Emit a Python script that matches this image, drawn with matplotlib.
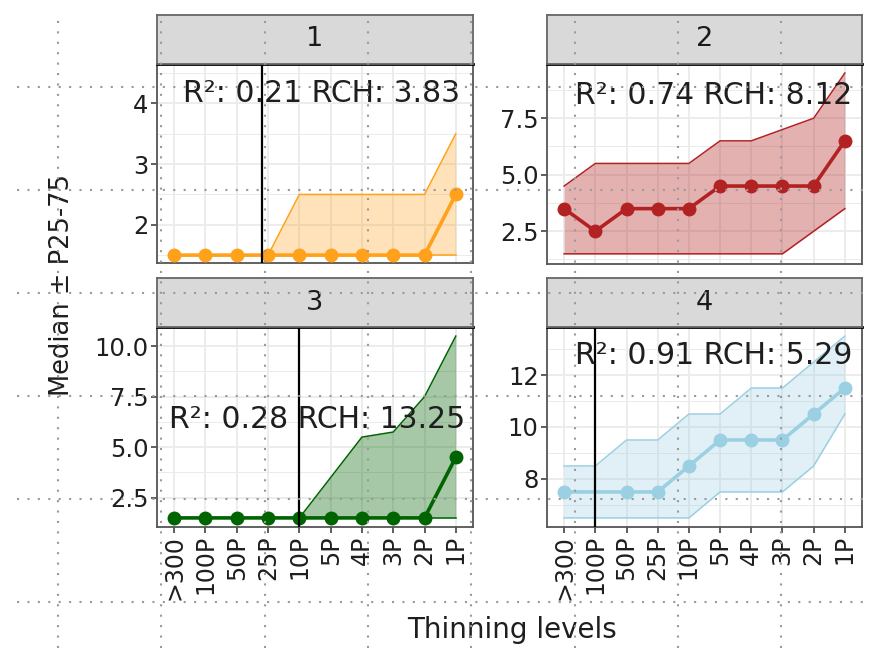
import numpy as np
import matplotlib
matplotlib.use("Agg")
import matplotlib.pyplot as plt
from matplotlib.lines import Line2D

levels = [">300", "100P", "50P", "25P", "10P", "5P", "4P", "3P", "2P", "1P"]

med1 = [1.5, 1.5, 1.5, 1.5, 1.5, 1.5, 1.5, 1.5, 1.5, 2.5]
lo1 = [1.5, 1.5, 1.5, 1.5, 1.5, 1.5, 1.5, 1.5, 1.5, 1.5]
hi1 = [1.5, 1.5, 1.5, 1.5, 2.5, 2.5, 2.5, 2.5, 2.5, 3.5]

med2 = [3.5, 2.5, 3.5, 3.5, 3.5, 4.5, 4.5, 4.5, 4.5, 6.5]
lo2 = [1.5, 1.5, 1.5, 1.5, 1.5, 1.5, 1.5, 1.5, 2.5, 3.5]
hi2 = [4.5, 5.5, 5.5, 5.5, 5.5, 6.5, 6.5, 7.0, 7.5, 9.5]

med3 = [1.5, 1.5, 1.5, 1.5, 1.5, 1.5, 1.5, 1.5, 1.5, 4.5]
lo3 = [1.5, 1.5, 1.5, 1.5, 1.5, 1.5, 1.5, 1.5, 1.5, 1.5]
hi3 = [1.5, 1.5, 1.5, 1.5, 1.5, 3.5, 5.5, 5.75, 7.5, 10.5]

med4 = [7.5, 7.5, 7.5, 7.5, 8.5, 9.5, 9.5, 9.5, 10.5, 11.5]
lo4 = [6.5, 6.5, 6.5, 6.5, 6.5, 7.5, 7.5, 7.5, 8.5, 10.5]
hi4 = [8.5, 8.5, 9.5, 9.5, 10.5, 10.5, 11.5, 11.5, 12.5, 13.5]

r2 = [0.21, 0.74, 0.28, 0.91]
rch = [3.83, 8.12, 13.25, 5.29]
vlines = [3.8, None, 5, 2]

meds = [med1, med2, med3, med4]
los = [lo1, lo2, lo3, lo4]
his = [hi1, hi2, hi3, hi4]

colors = ["#FFA11A", "#B22222", "#006400", "#9AD0E2"]
alphas = [0.3, 0.35, 0.35, 0.3]
ylims = [(1.37, 4.65), (1.05, 9.9), (1.05, 10.95), (6.15, 13.85)]
yticks = [[2, 3, 4], [2.5, 5.0, 7.5], [2.5, 5.0, 7.5, 10.0], [8, 10, 12]]
ytl = [["2", "3", "4"], ["2.5", "5.0", "7.5"], ["2.5", "5.0", "7.5", "10.0"], ["8", "10", "12"]]
yminor = [[1.5, 2.5, 3.5, 4.5], [1.25, 3.75, 6.25, 8.75], [3.75, 6.25, 8.75], [7, 9, 11, 13]]
txtpos = [(0.52, 0.85), (0.528, 0.845), (0.506, 0.535), (0.528, 0.855)]
# marker not visible behind the reference line in panel 4
hidden = [[], [], [], [1]]

W, H = 870, 648
fig = plt.figure(figsize=(8.7, 6.48), dpi=100)

# panel boxes in pixels: left, right, top, bottom
boxes = [(157, 473, 64, 263), (547, 862, 64, 264), (157, 473, 327, 527), (547, 862, 327, 527)]
strips = [(15, 64), (15, 64), (278, 327), (278, 327)]

x = np.arange(1, 11)
for i in range(4):
    l, r, t, b = boxes[i]
    ax = fig.add_axes([l / W, 1 - b / H, (r - l) / W, (b - t) / H])
    ax.set_facecolor("white")
    c = colors[i]
    ax.fill_between(x, los[i], his[i], color=c, alpha=alphas[i], lw=0, zorder=2)
    ax.plot(x, los[i], color=c, lw=1.1, zorder=3)
    ax.plot(x, his[i], color=c, lw=1.1, zorder=3)
    ax.plot(x, meds[i], color=c, lw=2.6, zorder=4)
    keep = [k for k in range(10) if k not in hidden[i]]
    ax.plot(x[keep], np.array(meds[i])[keep], "o", color=c, ms=9, zorder=5)
    if vlines[i] is not None:
        ax.axvline(vlines[i], color="black", lw=1.6, zorder=6)
    ax.set_xlim(0.45, 10.55)
    ax.set_ylim(*ylims[i])
    ax.set_xticks(x)
    ax.set_yticks(yticks[i])
    ax.set_yticklabels(ytl[i], fontsize=17.5, color="#1e1e1e")
    ax.set_yticks(yminor[i], minor=True)
    ax.tick_params(axis="y", which="minor", length=0)
    ax.tick_params(axis="both", which="major", length=4, width=1.1, color="#333333", pad=2)
    ax.grid(True, which="major", color="#EBEBEB", lw=1.3, zorder=0)
    ax.grid(True, which="minor", axis="y", color="#EBEBEB", lw=0.7, zorder=0)
    ax.set_axisbelow(True)
    if i < 2:
        ax.tick_params(axis="x", length=0, labelbottom=False)
    else:
        ax.set_xticklabels(levels, rotation=90, fontsize=17, color="#1e1e1e", va="top")
    for s in ax.spines.values():
        s.set_color("#555555")
        s.set_linewidth(1.3)
    ax.spines["top"].set_color("black")
    ax.spines["top"].set_linewidth(2)
    ax.text(txtpos[i][0], txtpos[i][1], f"R²: {r2[i]:.2f} RCH: {rch[i]:.2f}",
            transform=ax.transAxes, ha="center", va="center", fontsize=21.5,
            color="#1e1e1e", zorder=7)

    st, sb = strips[i]
    sax = fig.add_axes([l / W, 1 - sb / H, (r - l) / W, (sb - st) / H])
    sax.set_facecolor("#D9D9D9")
    sax.set_xticks([])
    sax.set_yticks([])
    for s in sax.spines.values():
        s.set_color("#666666")
        s.set_linewidth(1.3)
    sax.text(0.5, 0.5, str(i + 1), transform=sax.transAxes, ha="center", va="center",
             fontsize=19.5, color="#1a1a1a")

fig.text(62 / W, 1 - 285 / H, "Median ± P25-75", rotation=90, ha="center", va="center",
         fontsize=18.5, color="#1e1e1e")
fig.text(512 / W, 1 - 630 / H, "Thinning levels", ha="center", va="center",
         fontsize=20, color="#1e1e1e")

# dotted overlay grid visible over the whole picture
for xp in [58, 161, 265, 368, 471, 575, 678, 781]:
    fig.add_artist(Line2D([xp / W, xp / W], [0, 1 - 13 / H], transform=fig.transFigure,
                          color="#9a9a9a", lw=1.5, linestyle=(0, (1, 4)), zorder=20))
for yp in [87, 190, 293, 396, 499, 602]:
    fig.add_artist(Line2D([17 / W, 1], [1 - yp / H, 1 - yp / H], transform=fig.transFigure,
                          color="#9a9a9a", lw=1.5, linestyle=(0, (1, 4)), zorder=20))

fig.savefig("out.png", dpi=100)
